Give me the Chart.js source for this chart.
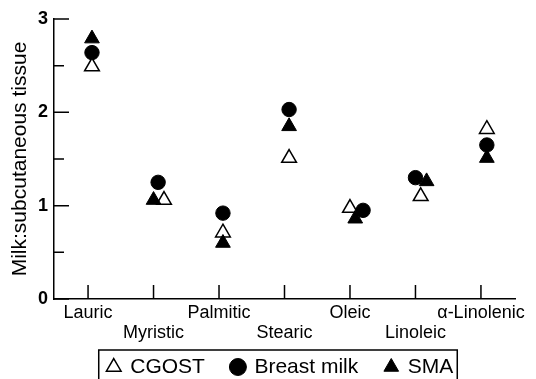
<!DOCTYPE html>
<html>
<head>
<meta charset="utf-8">
<script src="https://cdn.jsdelivr.net/npm/chart.js@4"></script>
<style>
  html, body { margin: 0; padding: 0; background: #fff; overflow: hidden; }
</style>
</head>
<body>
<canvas id="chart" width="536" height="402"></canvas>
<script>
// fatty acids on the x axis
const categories = ['Lauric', 'Myristic', 'Palmitic', 'Stearic', 'Oleic', 'Linoleic', 'α-Linolenic'];

// milk:subcutaneous tissue ratios
const cgost = [2.49, 1.06, 0.71, 1.51, 0.975, 1.10, 1.82];
const breastMilk = [2.64, 1.25, 0.92, 2.03, 0.95, 1.30, 1.65];
const sma = [2.79, 1.06, 0.60, 1.85, 0.86, 1.26, 1.51];

// small sideways shift of the symbols inside each category (category units)
const cgostShift = [0.06, 0.16, 0.06, 0.07, 0.0, 0.08, 0.09];
const breastMilkShift = [0.06, 0.07, 0.06, 0.07, 0.20, 0.0, 0.09];
const smaShift = [0.06, 0.0, 0.06, 0.07, 0.08, 0.17, 0.09];

const yTicks = [0, 1, 2, 3];
const legendOrder = ['CGOST', 'Breast milk', 'SMA'];

const FONT = '"Liberation Sans", Arial, sans-serif';
Chart.defaults.color = '#000';
Chart.defaults.font.family = FONT;

const toPoints = (values, shift) => values.map((v, i) => ({ x: i + shift[i], y: v }));

// tick marks point into the plot, plus the frame round the legend
const axisExtras = {
  id: 'axisExtras',
  afterLayout(chart) {
    // nudge the legend under the plot like in the printed figure
    const lg = chart.legend;
    lg.left += 23;
    lg.right += 23;
    lg.top -= 14.5;
    lg.bottom -= 14.5;
  },
  beforeDatasetsDraw(chart) {
    const { ctx, scales: { x, y } } = chart;
    ctx.save();
    ctx.strokeStyle = '#000';
    ctx.lineWidth = 1.5;
    ctx.beginPath();
    x.ticks.forEach(t => {
      const px = x.getPixelForValue(t.value);
      ctx.moveTo(px, x.top);
      ctx.lineTo(px, x.top - 14);
    });
    y.ticks.forEach(t => {
      const py = y.getPixelForValue(t.value);
      const len = yTicks.includes(t.value) ? 15 : 10;
      ctx.moveTo(y.right, py);
      ctx.lineTo(y.right + len, py);
    });
    ctx.stroke();
    ctx.restore();
  },
  afterDraw(chart) {
    const boxes = chart.legend.legendHitBoxes;
    if (!boxes || !boxes.length) return;
    const { ctx } = chart;
    ctx.save();
    ctx.strokeStyle = '#000';
    ctx.lineWidth = 1.5;
    const left = Math.min(...boxes.map(b => b.left)) - 9;
    const right = Math.max(...boxes.map(b => b.left + b.width)) + 4;
    const top = boxes[0].top - 6.5;
    ctx.strokeRect(left, top, right - left, 45);
    ctx.restore();
  }
};

new Chart(document.getElementById('chart'), {
  type: 'scatter',
  data: {
    datasets: [
      {
        label: 'SMA',
        data: toPoints(sma, smaShift),
        pointStyle: 'triangle',
        pointRadius: 8.5,
        backgroundColor: '#000',
        borderColor: '#000',
        borderWidth: 1
      },
      {
        label: 'CGOST',
        data: toPoints(cgost, cgostShift),
        pointStyle: 'triangle',
        pointRadius: 8.5,
        backgroundColor: '#fff',
        borderColor: '#000',
        borderWidth: 1.5
      },
      {
        label: 'Breast milk',
        data: toPoints(breastMilk, breastMilkShift),
        pointStyle: 'circle',
        pointRadius: 7.2,
        backgroundColor: '#000',
        borderColor: '#000',
        borderWidth: 1
      }
    ]
  },
  options: {
    responsive: false,
    animation: false,
    devicePixelRatio: 1,
    layout: { padding: { top: 19, right: 21, left: 0, bottom: 0 } },
    plugins: {
      tooltip: { enabled: false },
      legend: {
        position: 'bottom',
        labels: {
          usePointStyle: true,
          boxWidth: 12,
          boxHeight: 12,
          padding: 27,
          color: '#000',
          font: { size: 21, family: FONT },
          sort: (a, b) => legendOrder.indexOf(a.text) - legendOrder.indexOf(b.text)
        }
      }
    },
    scales: {
      x: {
        type: 'linear',
        min: -0.52,
        max: 6.52,
        afterBuildTicks: scale => {
          scale.ticks = categories.map((c, i) => ({ value: i }));
        },
        afterFit: scale => { scale.height = 45; },
        grid: { display: false, drawTicks: false },
        border: { display: true, color: '#000', width: 1.5 },
        ticks: {
          padding: 4,
          maxRotation: 0,
          autoSkip: false,
          font: { size: 18, lineHeight: 1.1 },
          callback: v => (v % 2 === 0 ? categories[v] : ['', categories[v]])
        }
      },
      y: {
        min: 0,
        max: 3,
        afterFit: scale => { scale.width = 54; },
        grid: { display: false, drawTicks: false },
        border: { display: true, color: '#000', width: 1.5 },
        ticks: {
          stepSize: 0.5,
          padding: 6,
          font: { size: 18, weight: 'bold' },
          callback: v => (yTicks.includes(v) ? v : '')
        },
        title: {
          display: true,
          text: 'Milk:subcutaneous tissue',
          font: { size: 21 },
          padding: { top: 8, bottom: 0 }
        }
      }
    }
  },
  plugins: [axisExtras]
});
</script>
</body>
</html>
